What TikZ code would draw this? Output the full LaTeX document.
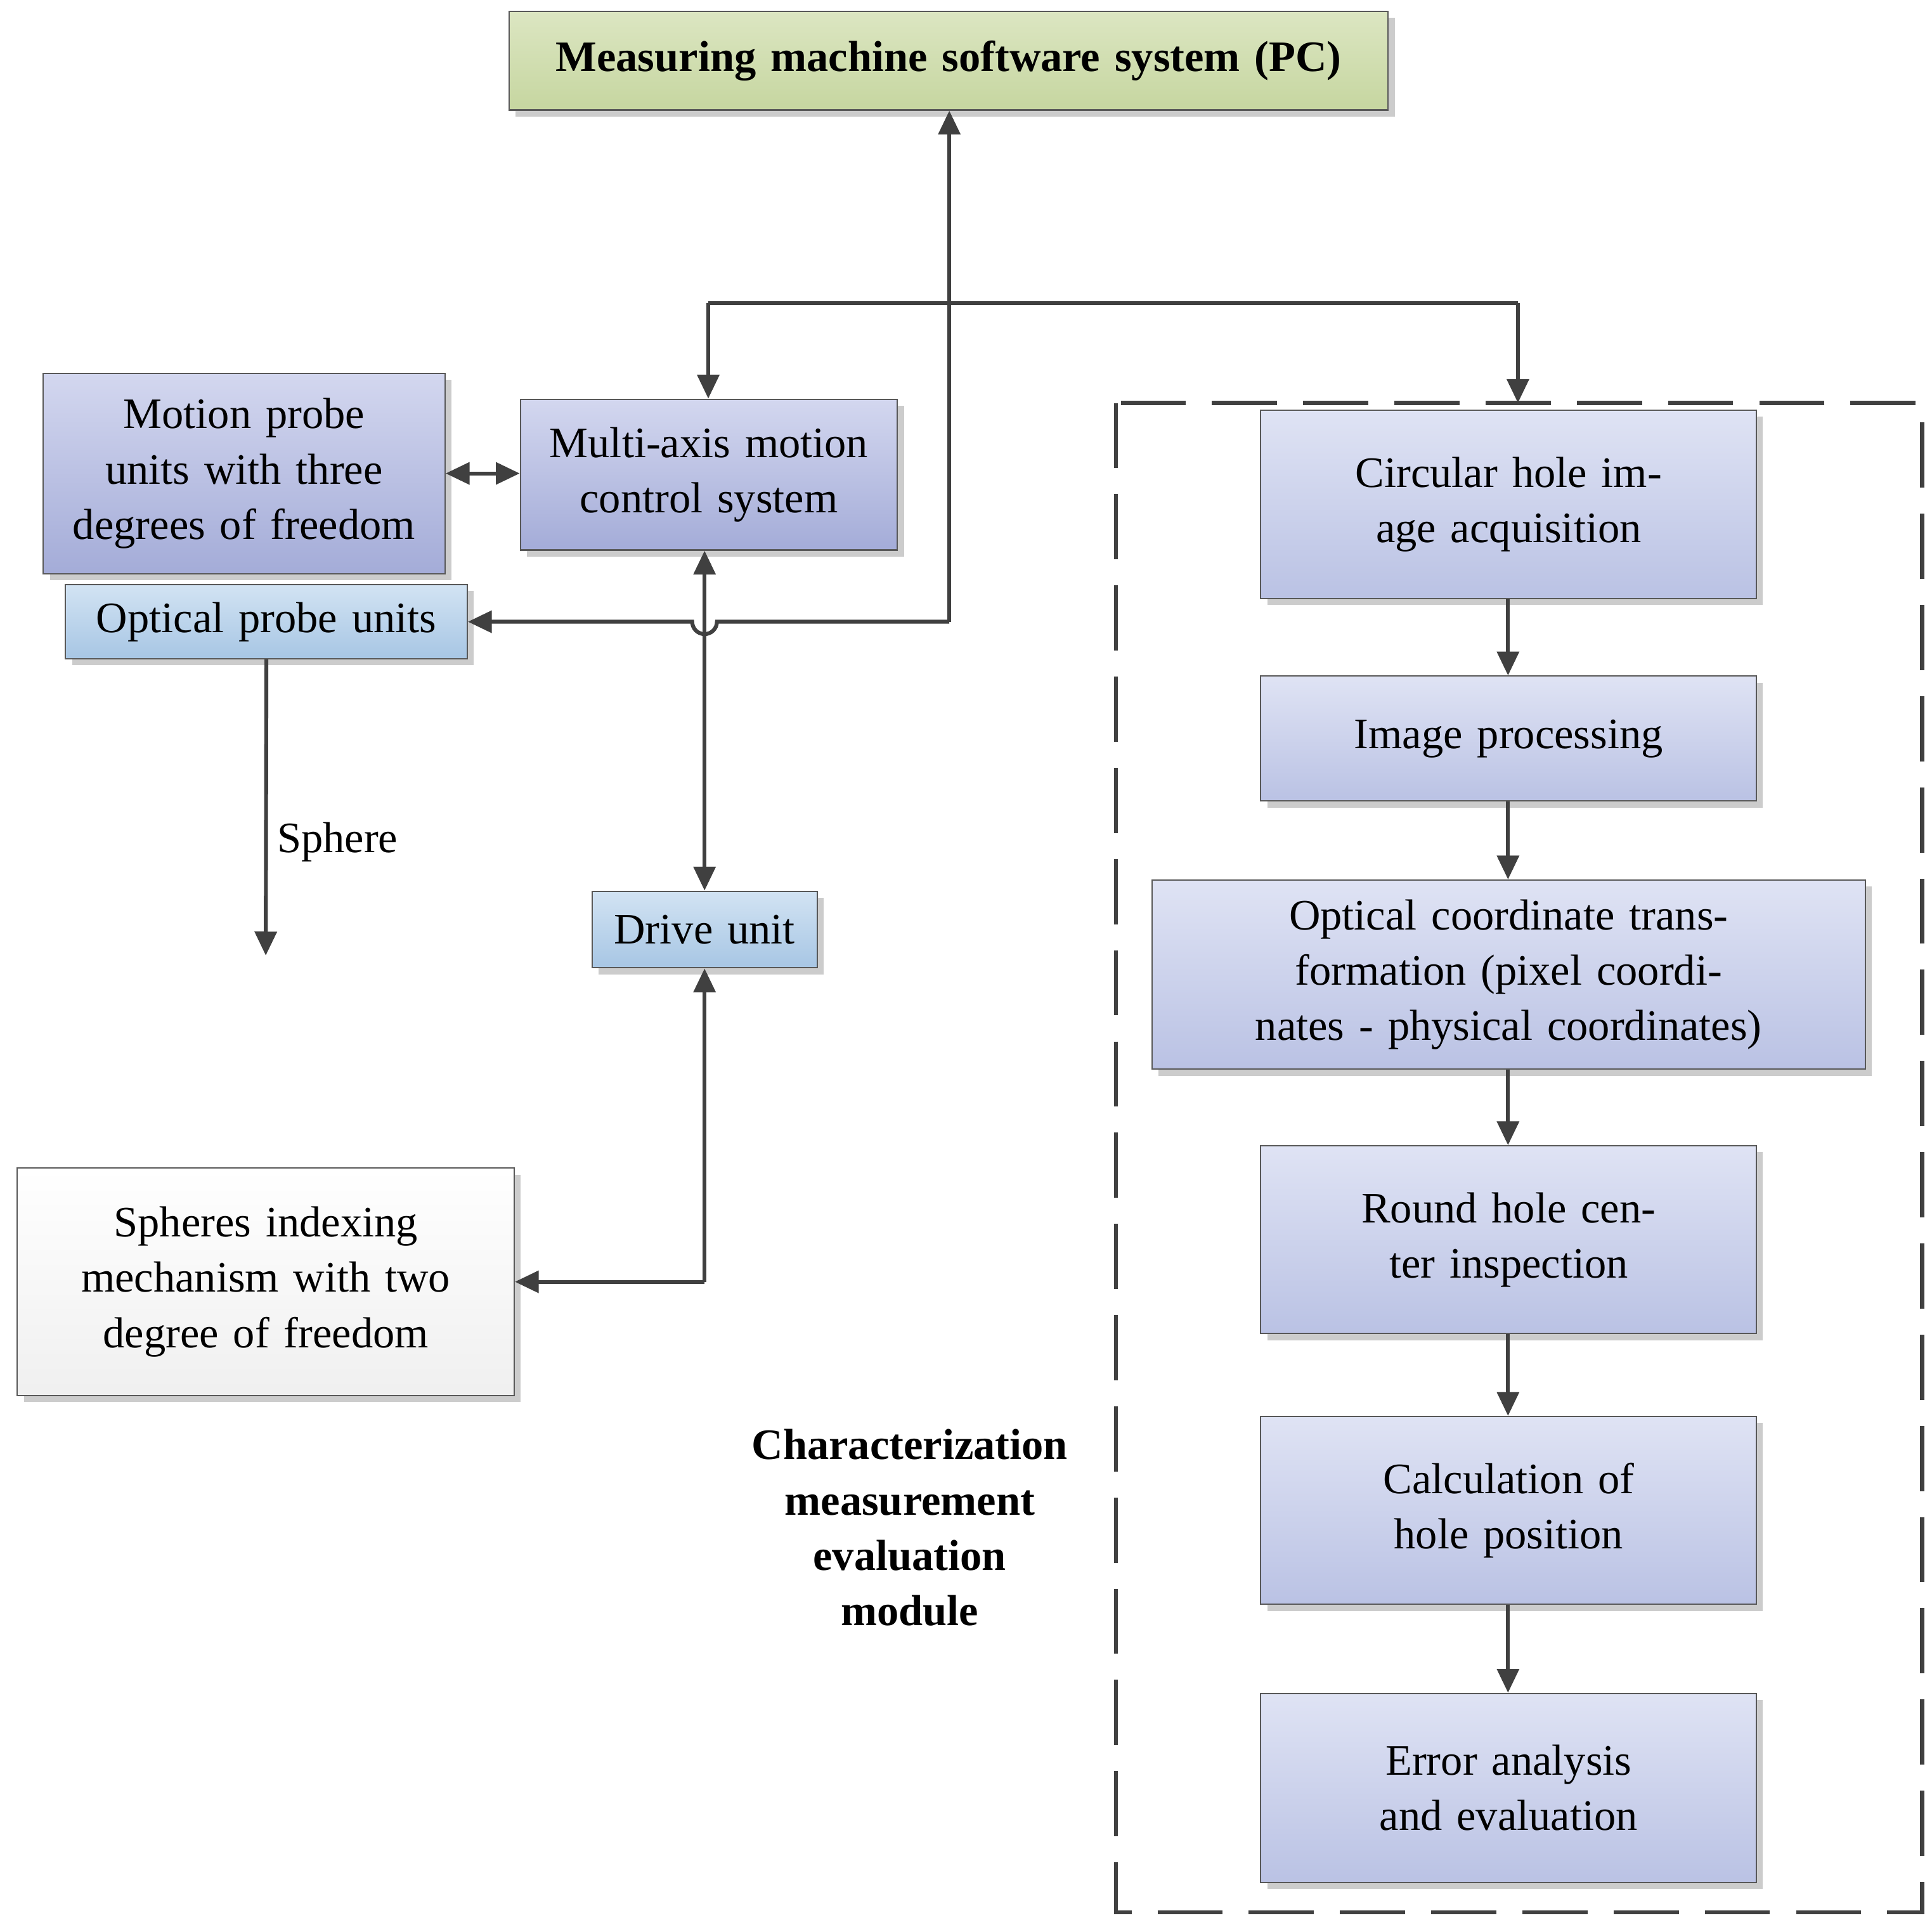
\documentclass[tikz,border=0pt]{standalone}
\usepackage{fontspec}
\setmainfont{Liberation Serif}
\usetikzlibrary{arrows.meta,shadows}
\definecolor{ln}{HTML}{404040}
\tikzset{
 box/.style={draw=gray!70!black, line width=0.6pt, align=center, inner sep=2pt,
   font=\fontsize{20}{25.5}\selectfont, drop shadow={shadow xshift=3pt,shadow yshift=-3pt,fill=gray!40,opacity=1}},
 purp/.style={box, top color=HTML1, bottom color=HTML2},
 conn/.style={draw=ln, line width=1.8pt, -{Triangle[length=11pt,width=10pt]}},
 dconn/.style={draw=ln, line width=1.8pt, {Triangle[length=11pt,width=10pt]}-{Triangle[length=11pt,width=10pt]}},
}
\definecolor{pA}{HTML}{D3D7EF}\definecolor{pB}{HTML}{A4ACD8}
\definecolor{bA}{HTML}{D2E3F3}\definecolor{bB}{HTML}{A7C6E4}
\definecolor{gA}{HTML}{DCE6C2}\definecolor{gB}{HTML}{C6D6A0}
\definecolor{rA}{HTML}{DFE3F4}\definecolor{rB}{HTML}{BAC2E4}
\newcommand{\bx}[7]{\node[box,#6,minimum width={(#4-#2)*0.02cm},minimum height={(#5-#3)*0.02cm},text width={(#4-#2)*0.02cm-10pt}] (#1) at ({(#2+#4)/2},{(#3+#5)/2}) {#7};}
\begin{document}
\begin{tikzpicture}[x=0.02cm,y=-0.02cm]
\useasboundingbox (0,0) rectangle (1563,1557);
% semicircle
\draw[gray!70!black, line width=0.6pt, fill=white] (54,945) arc[start angle=180,end angle=0,x radius=161,y radius=172];
\bx{pc}{412}{9}{1123}{89}{top color=gA,bottom color=gB}{\textbf{Measuring machine software system (PC)}}
\bx{mot}{35}{302}{360}{464}{top color=pA,bottom color=pB}{Motion probe units with three degrees of freedom}
\bx{mul}{421}{323}{726}{445}{top color=pA,bottom color=pB}{Multi-axis motion control system}
\bx{opt}{53}{473}{378}{533}{top color=bA,bottom color=bB}{Optical probe units}
\bx{drv}{479}{721}{661}{783}{top color=bA,bottom color=bB}{Drive unit}
\bx{sph}{14}{945}{416}{1129}{top color=white,bottom color=gray!12}{Spheres indexing mechanism with two degree of freedom}
\draw[ln, line width=1.8pt, dash pattern=on 30pt off 12pt] (903,326) rectangle (1555,1547);
\coordinate (dtop) at (1228,326);
\bx{r1}{1020}{332}{1421}{484}{top color=rA,bottom color=rB}{Circular hole image acquisition}
\bx{r2}{1020}{547}{1421}{648}{top color=rA,bottom color=rB}{Image processing}
\bx{r3}{932}{712}{1509}{865}{top color=rA,bottom color=rB}{Optical coordinate transformation (pixel coordinates - physical coordinates)}
\bx{r4}{1020}{927}{1421}{1079}{top color=rA,bottom color=rB}{Round hole center inspection}
\bx{r5}{1020}{1146}{1421}{1298}{top color=rA,bottom color=rB}{Calculation of hole position}
\bx{r6}{1020}{1370}{1421}{1523}{top color=rA,bottom color=rB}{Error analysis and evaluation}
\node[align=center,font=\fontsize{20}{25.5}\selectfont\bfseries] (lab) at (736,1236) {Characterization\\measurement\\evaluation\\module};
% connectors
\draw[conn] (768,503) -- (pc.south -| 768,0);
\draw[conn] (768,503) -- (580,503) arc[start angle=0,end angle=180,radius=10] -- (opt.east);
\draw[draw=ln,line width=1.8pt] (573,245) -- (1228,245);
\draw[conn] (573,245) -- (mul.north -| 573,0);
\draw[conn] (1228,245) -- (dtop);
\draw[dconn] (mot.east |- 0,383) -- (mul.west |- 0,383);
\draw[dconn] (mul.south -| 570,0) -- (drv.north -| 570,0);
\draw[conn] (570,1037) -- (drv.south -| 570,0);
\draw[conn] (570,1037) -- (sph.east |- 0,1037);
\draw[conn] (opt.south) -- (215,773) node[coordinate] (stop) {};
\node[font=\fontsize{20}{25.5}\selectfont] (slab) at (273,681) {Sphere};
\foreach \a/\b in {r1/r2,r2/r3,r3/r4,r4/r5,r5/r6} \draw[conn] (\a.south -| 1220,0) -- (\b.north -| 1220,0);
\end{tikzpicture}
\end{document}
